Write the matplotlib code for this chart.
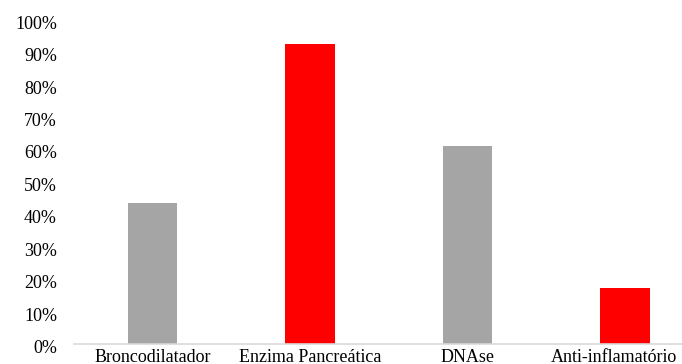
import matplotlib
matplotlib.use("Agg")
import matplotlib.pyplot as plt
import matplotlib.transforms as mtransforms
import numpy as np

# data
categories = ["Broncodilatador", "Enzima Pancreática", "DNAse", "Anti-inflamatório"]
values = [0.436, 0.924, 0.610, 0.174]
bar_colors = ["#a5a5a5", "#ff0000", "#a5a5a5", "#ff0000"]
y_ticks = np.arange(0, 11) / 10
y_labels = [f"{int(round(t * 100))}%" for t in y_ticks]

plt.rcParams["font.family"] = ["Liberation Serif", "DejaVu Serif"]

fig = plt.figure(figsize=(6.82, 3.64), dpi=100)
# axes runs past the right edge, like the cropped original
ax = fig.add_axes([0.108, 0.054, 0.924, 0.8922])

x = np.arange(len(categories))
ax.bar(x, values, width=0.315, color=bar_colors, zorder=2)

ax.set_xlim(-0.5, len(categories) - 0.5)
ax.set_ylim(0, 1)
ax.set_yticks(y_ticks)
ax.set_yticklabels(y_labels, fontsize=13)
ax.set_xticks(x)
ax.set_xticklabels(categories, fontsize=13)

ax.tick_params(axis="y", length=0, pad=12)
ax.tick_params(axis="x", length=0, pad=3)

# y labels sit a touch low in the original
down = mtransforms.ScaledTranslation(0, -0.025, fig.dpi_scale_trans)
for lab in ax.get_yticklabels():
    lab.set_transform(lab.get_transform() + down)

# last category label is pushed left so it stays inside the picture
shift = mtransforms.ScaledTranslation(-0.11, 0, fig.dpi_scale_trans)
last = ax.get_xticklabels()[-1]
last.set_transform(last.get_transform() + shift)

for side in ["top", "right", "left"]:
    ax.spines[side].set_visible(False)
ax.spines["bottom"].set_color("#d9d9d9")
ax.spines["bottom"].set_linewidth(1.2)

fig.savefig("out.png", dpi=100)
